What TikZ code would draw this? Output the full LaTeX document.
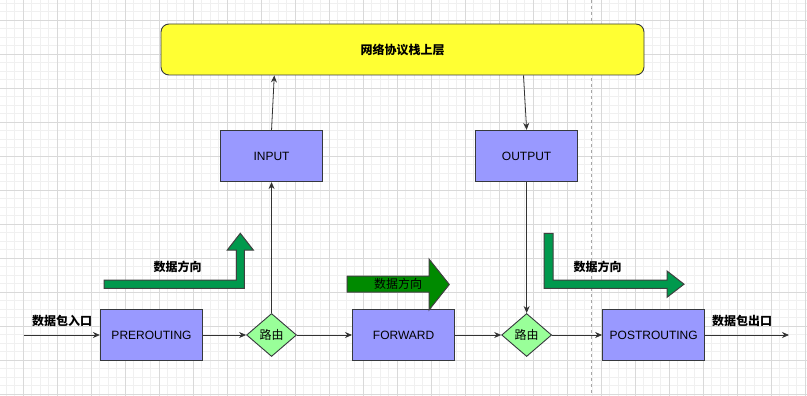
\documentclass[tikz,border=0pt]{standalone}
\usepackage{fontspec}
\setmainfont{Liberation Sans}
\newfontfamily\cjk{Noto Sans CJK SC}
\usetikzlibrary{positioning,arrows.meta,calc,shapes.geometric,backgrounds}

\definecolor{hookblue}{HTML}{9999FF}
\definecolor{routegreen}{HTML}{99FF99}
\definecolor{stackyellow}{HTML}{FFFF33}
\definecolor{flowgreen}{HTML}{00994D}
\definecolor{midgreen}{HTML}{008A00}
\definecolor{edgegray}{HTML}{36393D}

\begin{document}
\begin{tikzpicture}[x=1pt,y=-1pt,font=\fontsize{12}{14}\selectfont,
  hook/.style={draw=edgegray,line width=1.2pt,fill=hookblue,minimum width=102pt,minimum height=51pt,inner sep=0pt},
  rt/.style={diamond,draw=edgegray,line width=0.9pt,fill=routegreen,minimum width=50pt,minimum height=43pt,inner sep=0pt,font=\cjk\fontsize{12}{14}\selectfont},
  ar/.style={-{Stealth[length=7pt,width=6pt]},draw=black!80,line width=0.8pt},
  lb/.style={font=\cjk\bfseries\fontsize{12}{14}\selectfont,inner sep=1pt},
  fl/.style={draw=black!75,line width=1pt},
  gmin/.style={draw=black!6,line width=0.8pt},
  gmaj/.style={draw=black!15,line width=0.8pt}]
  \useasboundingbox[fill=white] (0,0) rectangle (807,396);
  % grid of the drawing page
  \foreach \i in {-2,...,92} \draw[gmin] ({23.3+8.5*\i},0) -- ({23.3+8.5*\i},396);
  \foreach \j in {-2,...,44} \draw[gmin] (0,{20.3+8.5*\j}) -- (807,{20.3+8.5*\j});
  \foreach \k in {0,...,23} \draw[gmaj] ({23.3+34*\k},0) -- ({23.3+34*\k},396);
  \foreach \k in {0,...,11} \draw[gmaj] (0,{20.3+34*\k}) -- (807,{20.3+34*\k});
  \draw[black!35,dashed,line width=0.8pt] (591.7,0) -- (591.7,396);

  \node[draw=edgegray,line width=0.9pt,fill=stackyellow,rounded corners=8pt,minimum width=483pt,minimum height=51pt,
    font=\cjk\bfseries\fontsize{12}{14}\selectfont] (top) at (402.5,49.5) {网络协议栈上层};
  \node[hook] (pre) at (151.5,335) {PREROUTING};
  \node[rt,right=43pt of pre] (r1) {路由};
  \node[hook,right=55pt of r1] (fwd) {FORWARD};
  \node[rt,right=46pt of fwd] (r2) {路由};
  \node[hook,right=50pt of r2] (post) {POSTROUTING};
  \node[hook,above=131pt of r1] (inbox) {INPUT};
  \node[hook,above=131pt of r2] (outbox) {OUTPUT};
  \coordinate (in) at (24,335);
  \coordinate (out) at (789,335);
  \node[lb] (inlbl) at (62,321) {数据包入口};
  \node[lb] (outlbl) at (742,321) {数据包出口};

  % data direction arrows
  \fill[flowgreen,fl] (104,280) -- (236.3,280) -- (236.3,250) -- (227.3,250) -- (240.3,233.3) -- (253.3,250)
    -- (244.3,250) -- (244.3,288.3) -- (104,288.3) -- cycle;
  \fill[midgreen,fl] (347,276) -- (429,276) -- (429,259) -- (449.3,284.5) -- (429,310) -- (429,292) -- (347,292) -- cycle;
  \fill[flowgreen,fl] (544,233.3) -- (553,233.3) -- (553,280) -- (667,280) -- (667,271) -- (684,284.2)
    -- (667,297.3) -- (667,288.3) -- (544,288.3) -- cycle;
  \node[lb] (dir1) at (177.7,266.7) {数据方向};
  \node[lb,font=\cjk\fontsize{12}{14}\selectfont] (dir2) at (398,284) {数据方向};
  \node[lb] (dir3) at (597.7,266.7) {数据方向};

  \draw[ar] (in) -- (pre);
  \draw[ar] (pre) -- (r1);
  \draw[ar] (r1) -- (fwd);
  \draw[ar] (fwd) -- (r2);
  \draw[ar] (r2) -- (post);
  \draw[ar] (post) -- (out);
  \draw[ar] (r1) -- (inbox);
  \draw[ar] (outbox) -- (r2);
  \draw[ar] (inbox.north) -- ($(top.south west)!0.235!(top.south east)$);
  \draw[ar] ($(top.south west)!0.75!(top.south east)$) -- (outbox.north);
\end{tikzpicture}
\end{document}
